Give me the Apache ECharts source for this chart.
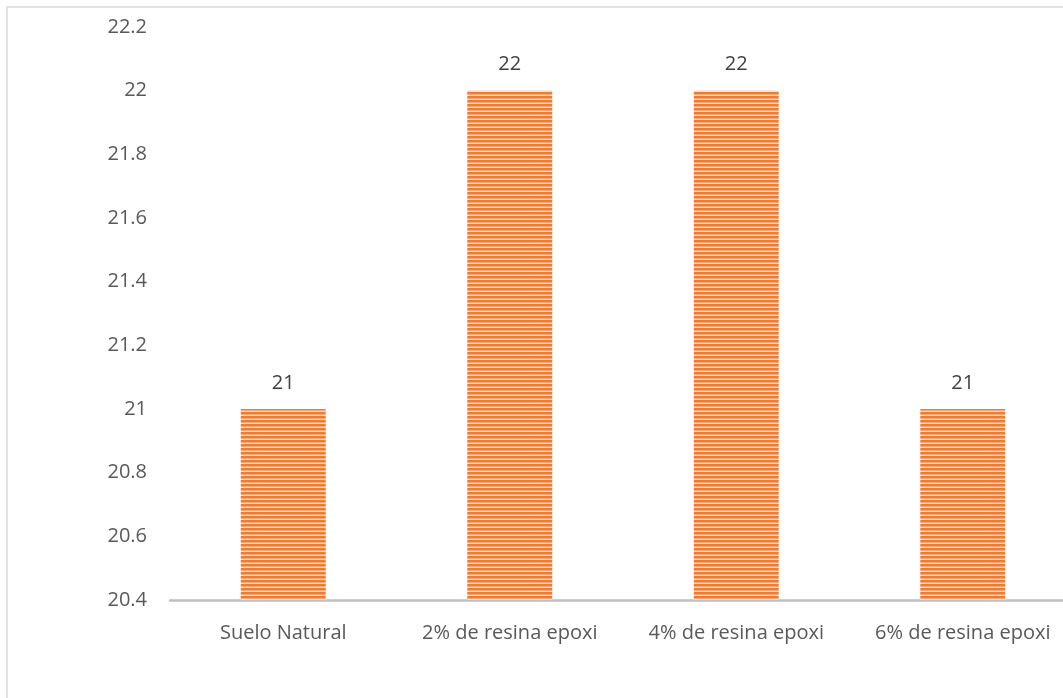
<!DOCTYPE html>
<html>
<head>
<meta charset="utf-8">
<script src="https://cdn.jsdelivr.net/npm/echarts@6/dist/echarts.min.js"></script>
<style>
  html, body { margin: 0; padding: 0; background: #fff; overflow: hidden; }
  #chart { width: 1100px; height: 698px; }
</style>
</head>
<body>
<div id="chart"></div>
<script>
// Categories and measured values
const categories = ['Suelo Natural', '2% de resina epoxi', '4% de resina epoxi', '6% de resina epoxi'];
const values = [21, 22, 22, 21];
// Value axis range
const axisMin = 20.4;
const axisMax = 22.2;
const axisStep = 0.2;

// Horizontal striped fill for the bars
function stripePattern() {
  const c = document.createElement('canvas');
  c.width = 8; c.height = 4;
  const ctx = c.getContext('2d');
  ctx.fillStyle = '#ED7D31';
  ctx.fillRect(0, 0, 8, 2);
  ctx.fillStyle = '#F4A878';
  ctx.fillRect(0, 2, 8, 1);
  ctx.fillStyle = '#FBDCC6';
  ctx.fillRect(0, 3, 8, 1);
  return c;
}

const chart = echarts.init(document.getElementById('chart'));
const font = '"Open Sans", "Liberation Sans", sans-serif';
chart.setOption({
  animation: false,
  backgroundColor: '#ffffff',
  graphic: [{
    type: 'rect',
    shape: { x: 7, y: 7, width: 1200, height: 800 },
    style: { fill: 'none', stroke: '#D9D9D9', lineWidth: 1.5 },
    silent: true,
    z: -1
  }],
  grid: { left: 170, right: 24, top: 27, bottom: 98 },
  xAxis: {
    type: 'category',
    data: categories,
    axisLine: { lineStyle: { color: '#BFBFBF', width: 2.5 } },
    axisTick: { show: false },
    axisLabel: {
      color: '#595959', fontSize: 20, fontFamily: font, margin: 23,
      interval: 0, hideOverlap: false
    }
  },
  yAxis: {
    type: 'value',
    min: axisMin,
    max: axisMax,
    interval: axisStep,
    splitLine: { show: false },
    axisLine: { show: false },
    axisTick: { show: false },
    axisLabel: {
      color: '#595959', fontSize: 20, fontFamily: font, margin: 23,
      formatter: v => String(+v.toFixed(1))
    }
  },
  series: [{
    type: 'bar',
    data: values,
    barWidth: '37.5%',
    itemStyle: { color: { image: stripePattern(), repeat: 'repeat' } },
    label: {
      show: true,
      position: 'top',
      distance: 16,
      color: '#404040',
      fontSize: 20,
      fontFamily: font
    }
  }]
});
</script>
</body>
</html>
